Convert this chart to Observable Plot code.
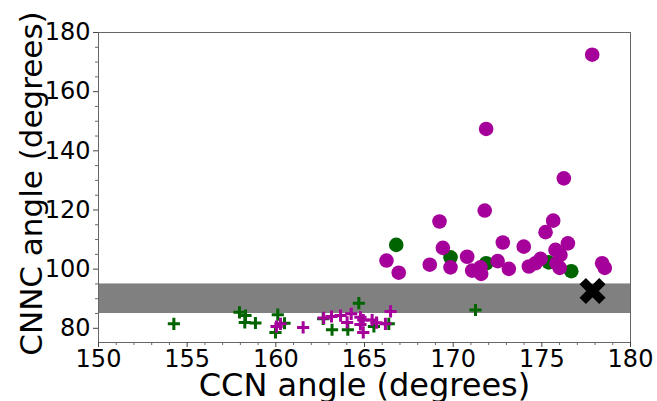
<!DOCTYPE html>
<html>
<head>
<meta charset="utf-8">
<script src="https://cdn.jsdelivr.net/npm/d3@7"></script>
<script src="https://cdn.jsdelivr.net/npm/@observablehq/plot@0.6"></script>
<style>
  body { margin: 0; background: #fff; }
  #chart svg { font-family: "DejaVu Sans", sans-serif; display: block; }
</style>
</head>
<body>
<div id="chart"></div>
<script>
// CCN / CNNC angles (degrees) for each group of structures

// Magenta circles
const magentaCircleCCN  = [177.84, 171.86, 176.24, 171.78, 169.23, 175.64, 175.21, 172.80, 173.98, 176.47,
                           169.42, 175.77, 176.05, 170.79, 166.24, 168.68, 169.85, 166.93, 171.07, 171.54,
                           171.58, 172.51, 173.14, 174.93, 174.64, 174.27, 175.83, 176.01, 178.40, 178.55];
const magentaCircleCNNC = [172.5, 147.4, 130.7, 119.8, 116.1, 116.4, 112.5, 109.0, 107.6, 108.7,
                           107.2, 106.5, 104.8, 104.2, 102.9, 101.5, 100.6, 98.8, 99.5, 100.6,
                           98.4, 102.7, 100.1, 103.5, 102.0, 100.9, 102.0, 100.4, 102.0, 100.4];

// Green circles
const greenCircleCCN  = [166.79, 169.85, 171.86, 175.39, 176.66];
const greenCircleCNNC = [108.2, 104.0, 102.0, 102.3, 99.3];

// Magenta crosses
const magentaPlusCCN  = [160.26, 160.04, 161.54, 162.70, 163.14, 163.65, 164.25, 164.02, 164.77, 164.93,
                         164.77, 164.93, 165.43, 165.68, 166.18, 166.47];
const magentaPlusCNNC = [81.5, 80.6, 80.3, 83.5, 84.0, 84.3, 84.9, 82.0, 83.7, 82.8,
                         81.3, 78.6, 82.8, 81.9, 81.5, 85.7];

// Green crosses
const greenPlusCCN  = [154.25, 157.95, 158.29, 158.25, 158.85, 160.11, 160.49, 159.98, 164.68, 162.67,
                       163.17, 164.06, 165.53, 166.37, 171.26];
const greenPlusCNNC = [81.5, 85.4, 84.3, 82.0, 81.8, 84.6, 81.7, 78.6, 88.5, 83.2,
                       79.5, 79.5, 80.6, 81.5, 86.2];

// Reference structure
const refCCN  = [177.86];
const refCNNC = [92.6];

// Shaded CNNC range
const bandLow  = [85];
const bandHigh = [95];

// Axis ranges and ticks
const xDomain = [150, 180];
const yDomain = [75.2, 180];
const xTicks = [150, 155, 160, 165, 170, 175, 180];
const yTicks = [80, 100, 120, 140, 160, 180];
const xMinor = d3.range(151, 180).filter(v => v % 5 !== 0);
const yMinor = d3.range(85, 180, 5).filter(v => v % 20 !== 0);

const xLabel = "CCN angle (degrees)";
const yLabel = "CNNC angle (degrees)";

const MAGENTA = "#a6009a";
const GREEN = "#006400";

const pts = (xs, ys) => xs.map((x, i) => ({x, y: ys[i]}));

const chart = Plot.plot({
  width: 657,
  height: 401,
  marginLeft: 98,
  marginRight: 27,
  marginTop: 32,
  marginBottom: 59,
  style: {fontFamily: "DejaVu Sans", background: "white", color: "black", overflow: "visible"},
  x: {domain: xDomain},
  y: {domain: yDomain},
  marks: [
    Plot.rect(bandLow.map((lo, i) => ({lo, hi: bandHigh[i]})), {
      x1: () => xDomain[0], x2: () => xDomain[1], y1: "lo", y2: "hi", fill: "#808080"
    }),
    Plot.dot(pts(greenPlusCCN, greenPlusCNNC), {x: "x", y: "y", symbol: "plus", r: 4, stroke: GREEN, strokeWidth: 3}),
    Plot.dot(pts(magentaPlusCCN, magentaPlusCNNC), {x: "x", y: "y", symbol: "plus", r: 4, stroke: MAGENTA, strokeWidth: 3}),
    Plot.dot(pts(greenCircleCCN, greenCircleCNNC), {x: "x", y: "y", r: 7.3, fill: GREEN}),
    Plot.dot(pts(magentaCircleCCN, magentaCircleCNNC), {x: "x", y: "y", r: 7.3, fill: MAGENTA}),
    Plot.dot(pts(refCCN, refCNNC), {x: "x", y: "y", symbol: "times", r: 9, stroke: "black", strokeWidth: 9, strokeLinecap: "butt"}),
    Plot.frame({stroke: "#666"}),
    Plot.axisX({ticks: xTicks, tickSize: 5, tickPadding: 2, fontSize: 24, label: null, stroke: "#444", fill: "black"}),
    Plot.axisX({ticks: xMinor, tickSize: 3, text: null, label: null, stroke: "#666"}),
    Plot.axisY({ticks: yTicks, tickSize: 5, tickPadding: 3, fontSize: 24, label: null, stroke: "#444", fill: "black"}),
    Plot.axisY({ticks: yMinor, tickSize: 3, text: null, label: null, stroke: "#666"}),
    Plot.text([xLabel], {text: d => d, frameAnchor: "bottom", dy: 43, fontSize: 32, textAnchor: "middle", lineAnchor: "middle", fill: "black"}),
    Plot.text([yLabel], {text: d => d, frameAnchor: "left", dx: -66, dy: -4, rotate: -90, fontSize: 31, textAnchor: "middle", lineAnchor: "middle", fill: "black"})
  ]
});

document.getElementById("chart").appendChild(chart);
</script>
</body>
</html>
